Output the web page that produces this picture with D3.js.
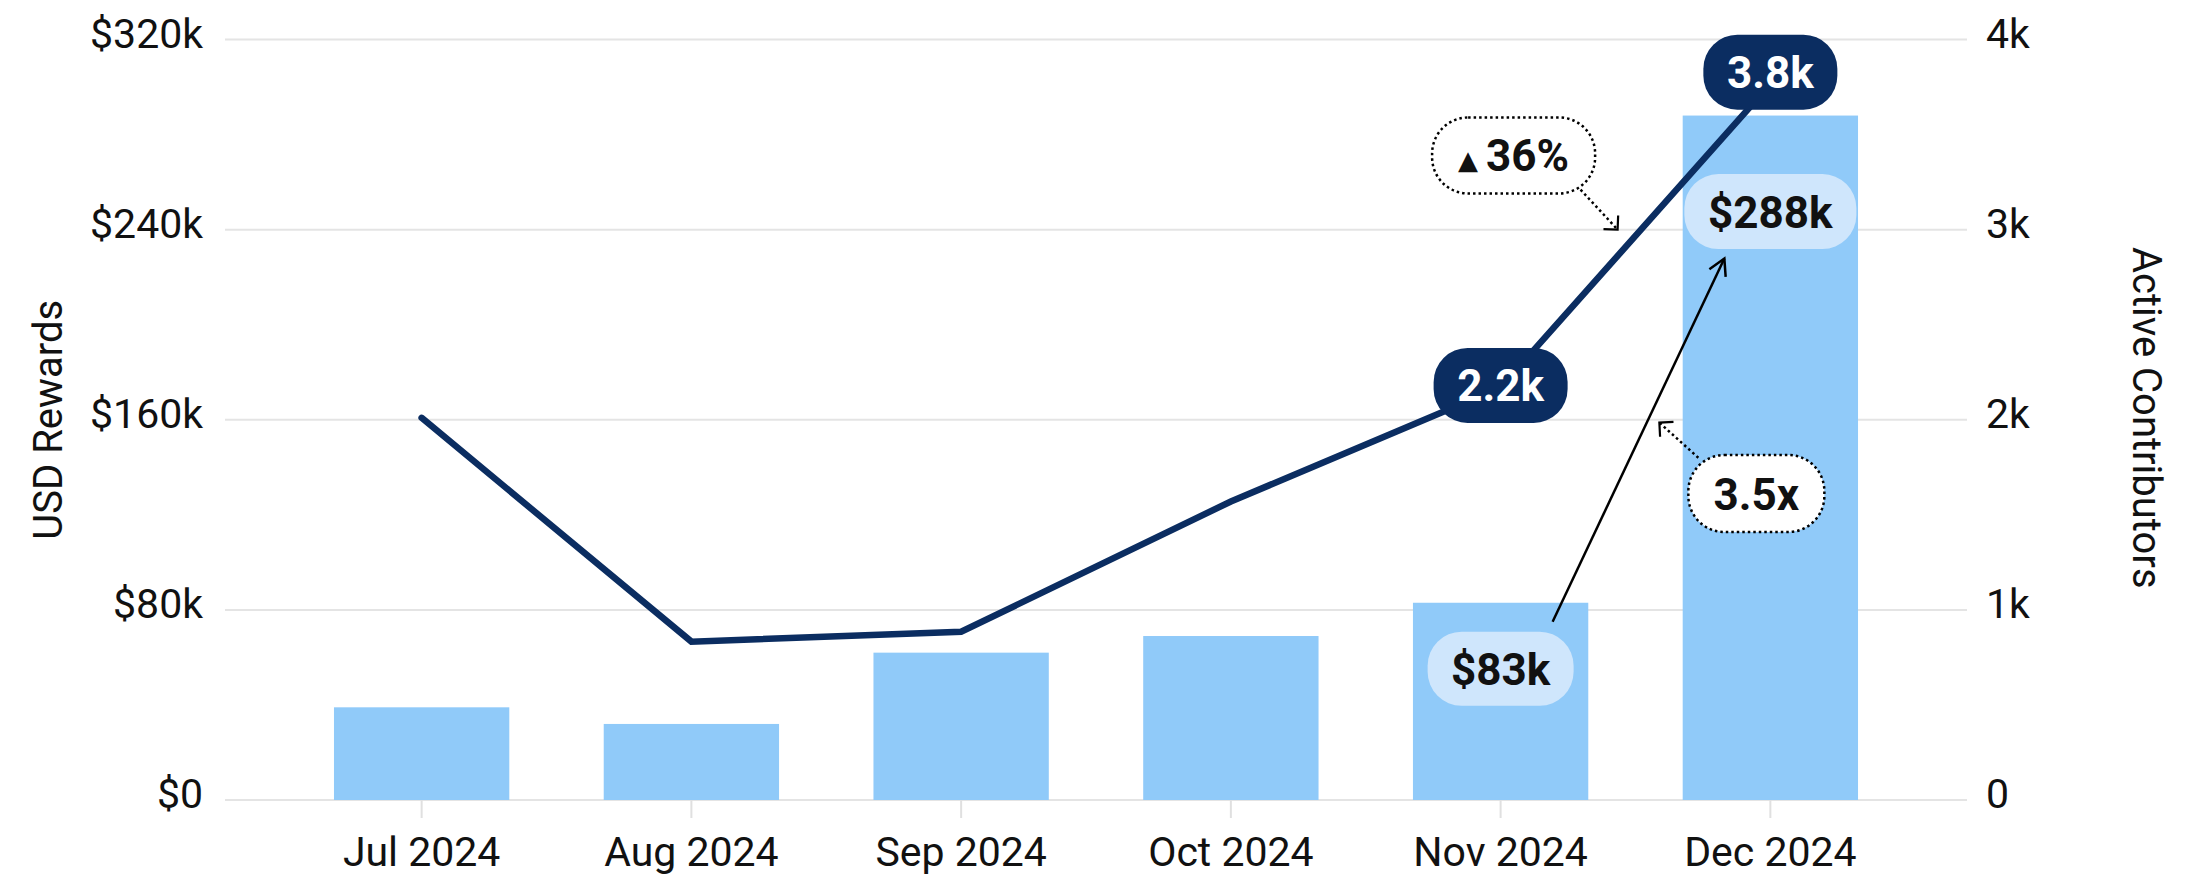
<!DOCTYPE html>
<html>
<head>
<meta charset="utf-8">
<script src="https://cdn.jsdelivr.net/npm/d3@7"></script>
<style>
  body { margin: 0; background: #fff; }
  text { font-family: Roboto, "Noto Sans", sans-serif; fill: #111; }
</style>
</head>
<body>
<div id="chart"></div>
<script>
const months = ['Jul 2024', 'Aug 2024', 'Sep 2024', 'Oct 2024', 'Nov 2024', 'Dec 2024'];
const rewards = [39000, 32000, 62000, 69000, 83000, 288000];
const contributors = [2010, 833, 885, 1570, 2170, 3765];
const rewardTicks = [0, 80000, 160000, 240000, 320000];
const contribTicks = [0, 1000, 2000, 3000, 4000];
const growthLabel = '36%';

const width = 2194, height = 876;
const margin = { left: 225, right: 1967, top: 39.5, bottom: 800 };
const navy = '#0b2d61';

const svg = d3.select('#chart').append('svg')
    .attr('width', width)
    .attr('height', height);

const defs = svg.append('defs');
defs.append('marker')
    .attr('id', 'head')
    .attr('viewBox', '-20 -12 24 24')
    .attr('markerUnits', 'userSpaceOnUse')
    .attr('markerWidth', 24).attr('markerHeight', 24)
    .attr('orient', 'auto')
    .append('path')
    .attr('d', 'M-16,-9L0,0L-16,9')
    .attr('fill', 'none').attr('stroke', '#000').attr('stroke-width', 2.5);
defs.append('marker')
    .attr('id', 'corner')
    .attr('viewBox', '-14 -12 18 24')
    .attr('markerUnits', 'userSpaceOnUse')
    .attr('markerWidth', 18).attr('markerHeight', 24)
    .attr('orient', 'auto')
    .append('path')
    .attr('d', 'M-10,-10L0,0L-10,10')
    .attr('fill', 'none').attr('stroke', '#000').attr('stroke-width', 2.2);

const x = d3.scaleBand()
    .domain(months)
    .range([margin.left, margin.right])
    .paddingInner(0.35)
    .paddingOuter(0.404);
const xc = m => x(m) + x.bandwidth() / 2;

const yL = d3.scaleLinear().domain([0, 320000]).range([margin.bottom, margin.top]);
const yR = d3.scaleLinear().domain([0, 4000]).range([margin.bottom, margin.top]);

// grid
svg.append('g').selectAll('line')
    .data(rewardTicks)
    .enter().append('line')
    .attr('x1', margin.left).attr('x2', margin.right)
    .attr('y1', d => yL(d)).attr('y2', d => yL(d))
    .attr('stroke', '#e4e4e4').attr('stroke-width', 2);

// left axis
const leftAxis = svg.append('g')
    .attr('transform', `translate(${margin.left},0)`)
    .call(d3.axisLeft(yL).tickValues(rewardTicks).tickSize(0).tickPadding(22)
        .tickFormat(d => d === 0 ? '$0' : '$' + d / 1000 + 'k'));
leftAxis.select('.domain').remove();
leftAxis.selectAll('text')
    .attr('font-size', 41).attr('dy', '0.19em')
    .style('font-family', 'Roboto').attr('fill', '#111');

// right axis
const rightAxis = svg.append('g')
    .attr('transform', `translate(${margin.right},0)`)
    .call(d3.axisRight(yR).tickValues(contribTicks).tickSize(0).tickPadding(19)
        .tickFormat(d => d === 0 ? '0' : d / 1000 + 'k'));
rightAxis.select('.domain').remove();
rightAxis.selectAll('text')
    .attr('font-size', 41).attr('dy', '0.19em')
    .style('font-family', 'Roboto').attr('fill', '#111');

// x axis
const xAxis = svg.append('g')
    .attr('transform', `translate(0,${margin.bottom})`)
    .call(d3.axisBottom(x).tickSize(18).tickPadding(0));
xAxis.select('.domain').remove();
xAxis.selectAll('.tick line').attr('stroke', '#e0e0e0').attr('stroke-width', 2);
xAxis.selectAll('text')
    .attr('font-size', 41).attr('y', 66).attr('dy', 0)
    .style('font-family', 'Roboto').attr('fill', '#111');

// axis titles
svg.append('text')
    .attr('transform', `translate(62,${(margin.top + margin.bottom) / 2}) rotate(-90)`)
    .attr('text-anchor', 'middle')
    .attr('font-size', 40)
    .text('USD Rewards');
svg.append('text')
    .attr('transform', `translate(2133,${(margin.top + margin.bottom) / 2 - 2}) rotate(90)`)
    .attr('text-anchor', 'middle')
    .attr('font-size', 40)
    .text('Active Contributors');

// bars
svg.append('g').selectAll('rect')
    .data(months)
    .enter().append('rect')
    .attr('x', d => x(d))
    .attr('y', (d, i) => yL(rewards[i]))
    .attr('width', x.bandwidth())
    .attr('height', (d, i) => margin.bottom - yL(rewards[i]))
    .attr('fill', '#90caf9');

// contributors line
const line = d3.line()
    .x(d => xc(d[0]))
    .y(d => yR(d[1]));
svg.append('path')
    .datum(months.map((m, i) => [m, contributors[i]]))
    .attr('d', line)
    .attr('fill', 'none')
    .attr('stroke', navy)
    .attr('stroke-width', 6.5)
    .attr('stroke-linecap', 'round')
    .attr('stroke-linejoin', 'miter');

function badge(cx, cy, w, h, rx, fill, color, label, dash) {
    const g = svg.append('g');
    const r = g.append('rect')
        .attr('x', cx - w / 2).attr('y', cy - h / 2)
        .attr('width', w).attr('height', h)
        .attr('rx', rx)
        .attr('fill', fill);
    if (dash) {
        r.attr('stroke', '#000').attr('stroke-width', 2.5)
            .attr('stroke-dasharray', '2.5 3');
    }
    const t = g.append('text')
        .attr('x', cx).attr('y', cy + 16)
        .attr('text-anchor', 'middle')
        .attr('font-size', 44)
        .attr('font-weight', 700)
        .style('fill', color);
    if (typeof label === 'string') t.text(label);
    else label(t);
    return g;
}

const iNov = 4, iDec = 5;
const fmtK = v => (v / 1000).toFixed(1) + 'k';
const fmtUsd = v => '$' + Math.round(v / 1000) + 'k';

// solid arrow from Nov bar to Dec reward badge
const lightDec = { cx: xc(months[iDec]), cy: yL(rewards[iDec]) + 96 };
const lightNov = { cx: xc(months[iNov]), cy: yL(rewards[iNov]) + 66 };
svg.append('line')
    .attr('x1', xc(months[iNov]) + 52).attr('y1', yL(rewards[iNov]) + 19)
    .attr('x2', lightDec.cx - 46).attr('y2', lightDec.cy + 47)
    .attr('stroke', '#000').attr('stroke-width', 2.5)
    .attr('marker-end', 'url(#head)');

// reward labels
badge(lightDec.cx, lightDec.cy, 172, 75, 34, '#cfe6fc', '#111', fmtUsd(rewards[iDec]));
badge(lightNov.cx, lightNov.cy, 146, 74, 34, '#cfe6fc', '#111', fmtUsd(rewards[iNov]));

// contributor labels
badge(xc(months[iNov]), yR(contributors[iNov]) - 2, 134, 75, 34, navy, '#fff', fmtK(contributors[iNov]));
badge(xc(months[iDec]), yR(contributors[iDec]) - 12, 134, 75, 34, navy, '#fff', fmtK(contributors[iDec]));

// growth annotation
svg.append('line')
    .attr('x1', xc(months[iNov]) + 80).attr('y1', yR(3210))
    .attr('x2', xc(months[iNov]) + 117).attr('y2', yR(3000))
    .attr('stroke', '#000').attr('stroke-width', 2.5)
    .attr('stroke-dasharray', '2.5 3')
    .attr('marker-end', 'url(#corner)');
badge(xc(months[iNov]) + 13, yR(3390), 163, 76, 36, '#fff', '#111', t => {
    t.append('tspan').attr('font-size', 26).attr('dy', -2).style('font-family', 'DejaVu Sans').text('▲');
    t.append('tspan').attr('dx', 8).attr('dy', 2).text(growthLabel);
}, true);

// multiple annotation
svg.append('line')
    .attr('x1', xc(months[iDec]) - 72).attr('y1', yR(1800))
    .attr('x2', xc(months[iDec]) - 111).attr('y2', yR(1985))
    .attr('stroke', '#000').attr('stroke-width', 2.5)
    .attr('stroke-dasharray', '2.5 3')
    .attr('marker-end', 'url(#corner)');
badge(xc(months[iDec]) - 14, yR(1612), 136, 77, 36, '#fff', '#111',
    (rewards[iDec] / rewards[iNov]).toFixed(1) + 'x', true);
</script>
</body>
</html>
